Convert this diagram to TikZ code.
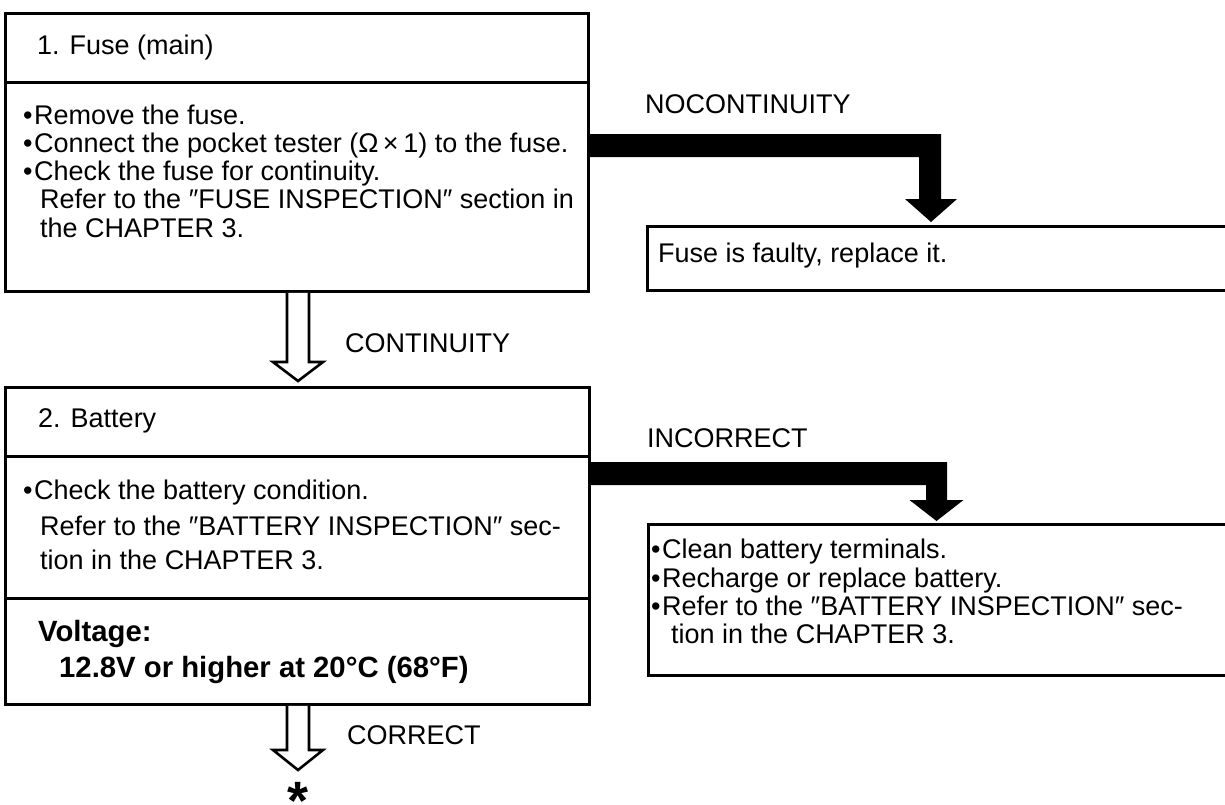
\documentclass[tikz,border=0pt]{standalone}
\usepackage{fontspec}
\setmainfont{Liberation Sans}
\begin{document}
\begin{tikzpicture}[x=1pt,y=-1pt,
  box/.style={draw, line width=2.8pt, inner sep=0pt, anchor=north west},
  txt/.style={anchor=base west, inner sep=0pt, font=\fontsize{27}{30}\selectfont},
  btxt/.style={anchor=base west, inner sep=0pt, font=\fontsize{29.3}{32}\selectfont\bfseries},
  blk/.style={fill=black, draw=none},
  hollow/.style={draw, line width=2.6pt, fill=white, line join=miter}]
\useasboundingbox (0,0) rectangle (1225,804);
% left boxes
\node[box, minimum width=583pt, minimum height=69pt] (b1h) at (4,12) {};
\node[box, minimum width=583pt, minimum height=209pt] (b1b) at (4,81) {};
\node[box, minimum width=584pt, minimum height=69pt] (b2h) at (4,386) {};
\node[box, minimum width=584pt, minimum height=142pt] (b2b) at (4,455) {};
\node[box, minimum width=584pt, minimum height=106pt] (b2v) at (4,597) {};
% right boxes (open to the right edge)
\node[box, minimum width=590pt, minimum height=64pt] (r1) at (646,225) {};
\node[box, minimum width=590pt, minimum height=151pt] (r2) at (647,523) {};
% texts box 1
\node[txt] (t1) at (37,54) {1. Fuse (main)};
\node[txt] (t1a) at (23,124) {\textbullet\kern1.5pt Remove the fuse.};
\node[txt] (t1b) at (23,152) {\textbullet\kern1.5pt Connect the pocket tester (Ω\,×\,1) to the fuse.};
\node[txt] (t1c) at (23,180) {\textbullet\kern1.5pt Check the fuse for continuity.};
\node[txt] (t1d) at (40,208.5) {Refer to the ″FUSE INSPECTION″ section in};
\node[txt] (t1e) at (40,237) {the CHAPTER 3.};
% texts box 2
\node[txt] (t2) at (38,427.5) {2. Battery};
\node[txt] (t2a) at (23,499) {\textbullet\kern1.5pt Check the battery condition.};
\node[txt] (t2b) at (40,535) {Refer to the ″BATTERY INSPECTION″ sec-};
\node[txt] (t2c) at (40,569) {tion in the CHAPTER 3.};
\node[btxt] (t2d) at (38,641) {Voltage:};
\node[btxt] (t2e) at (59,677) {12.8V or higher at 20°C (68°F)};
% right texts
\node[txt] (r1t) at (658,262.5) {Fuse is faulty, replace it.};
\node[txt] (r2a) at (651,558) {\textbullet\kern1.5pt Clean battery terminals.};
\node[txt] (r2b) at (651,587) {\textbullet\kern1.5pt Recharge or replace battery.};
\node[txt] (r2c) at (651,615) {\textbullet\kern1.5pt Refer to the ″BATTERY INSPECTION″ sec-};
\node[txt] (r2d) at (671,643) {tion in the CHAPTER 3.};
% labels
\node[txt] (l1) at (645,113.5) {NOCONTINUITY};
\node[txt] (l2) at (647,447.5) {INCORRECT};
\node[txt] (l3) at (345,352.5) {CONTINUITY};
\node[txt] (l4) at (347,744.5) {CORRECT};
\node[anchor=base, inner sep=0pt, font=\fontsize{54}{54}\selectfont\bfseries] (ast) at (298,819.5)
  {\smash{*}};
% black elbow arrows
\fill[blk] (b1b.east |- 0,134) -- (941,134) -- (941,199) -- (957,199) -- (931,222)
  -- (905,199) -- (919,199) -- (919,157) -- (b1b.east |- 0,157) -- cycle;
\fill[blk] (b2b.east |- 0,462) -- (947,462) -- (947,500) -- (963.5,500) -- (936.5,521)
  -- (909.5,500) -- (926,500) -- (926,485) -- (b2b.east |- 0,485) -- cycle;
% hollow arrows
\draw[hollow] (287,0 |- b1b.south) -- (287,362) -- (273,362) -- (298,381) -- (323,362)
  -- (309,362) -- (309,0 |- b1b.south);
\draw[hollow] (287,0 |- b2v.south) -- (287,750) -- (273,750) -- (298,770) -- (323,750)
  -- (309,750) -- (309,0 |- b2v.south);
\end{tikzpicture}
\end{document}
